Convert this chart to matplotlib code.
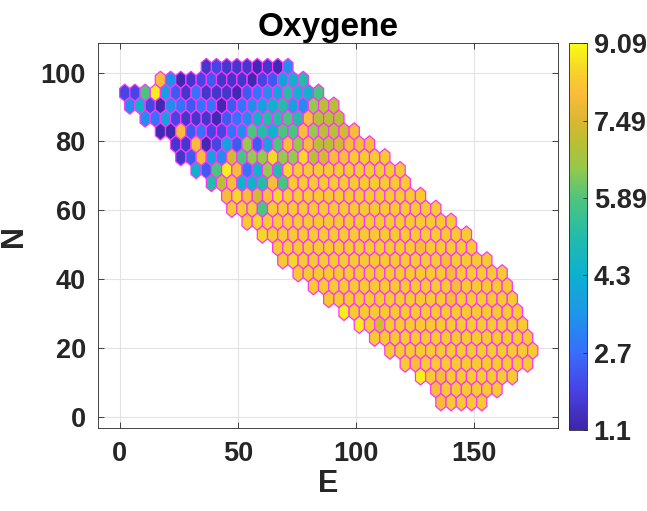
import numpy as np
import matplotlib
matplotlib.use("Agg")
import matplotlib.pyplot as plt
from matplotlib.collections import PolyCollection
from matplotlib.colors import LinearSegmentedColormap

plt.rcParams['font.family'] = ['Liberation Sans', 'DejaVu Sans']
plt.rcParams['font.weight'] = 'bold'

# colour codes -> oxygen value
level_codes = "PDVUBLSCTGgKkOoYW"
level_values = [1.25, 1.6, 1.95, 2.35, 2.8, 3.3, 3.8, 4.4, 5.1, 5.8, 6.5, 7.0, 7.4, 8.0, 8.3, 8.55, 8.9]

# first half-column index of each hex row (top row first)
row_first = [16, 7, 0, 1, 4, 7, 10, 11, 14, 17, 20, 21, 24, 27, 30, 31, 34,
             37, 40, 43, 46, 49, 52, 55, 58, 61, 62]

# one code per cell, left to right
row_cells = [
    "DVDDDPDPL",
    "OLPDVUDDDPVUSCT",
    "VVGWSUDBDDDPUBLSTCCG",
    "LCVPLBUBBPUBLSCTSLgKK",
    "LBSVDDDPUBLCTTGTOKKK",
    "PPOUBVVBLGTCGGOgKKkO",
    "DDOPVSUgUSGOgOKKkOOO",
    "DUOSLkGggYggYKkOOoooo",
    "CUGWOBCgTYooooooooooo",
    "TKOCCTOGoooooooooooo",
    "OYOkOYoooooooooooooo",
    "oooGooooooooooooooooo",
    "oYooooooooooooooooooo",
    "Yoooooooooooooooooooo",
    "ooooooooooooooOooooo",
    "oYooooooooooooooOoooo",
    "oooooooooooooooOooooo",
    "ooooooooooooooOooooo",
    "ooooooooooooOoooooo",
    "Wooooooooooooooooo",
    "Wokoooooooooooooo",
    "oooooooooooooooo",
    "ooooooooooooooo",
    "oOooooooooooo",
    "WoOooooooo",
    "Ooooooo",
    "Ooooo",
]

# grid geometry (E, N units)
E0, E_HALF = 2.1, 2.157
N0, N_STEP, HEX_R = 101.66, 3.75, 2.5

parula = LinearSegmentedColormap.from_list("parula_like", [
    (0.00, (62/255, 38/255, 168/255)),
    (0.10, (72/255, 66/255, 226/255)),
    (0.20, (55/255, 110/255, 252/255)),
    (0.30, (30/255, 150/255, 232/255)),
    (0.40, (12/255, 176/255, 208/255)),
    (0.50, (35/255, 187/255, 170/255)),
    (0.60, (80/255, 197/255, 125/255)),
    (0.68, (150/255, 200/255, 75/255)),
    (0.75, (190/255, 190/255, 50/255)),
    (0.80, (218/255, 182/255, 50/255)),
    (0.87, (251/255, 188/255, 58/255)),
    (0.93, (246/255, 212/255, 42/255)),
    (1.00, (249/255, 251/255, 20/255)),
])

code_value = dict(zip(level_codes, level_values))
ox = [0, E_HALF, E_HALF, 0, -E_HALF, -E_HALF]
oy = [HEX_R, HEX_R / 2, -HEX_R / 2, -HEX_R, -HEX_R / 2, HEX_R / 2]

verts, vals = [], []
for r, (h0, cells) in enumerate(zip(row_first, row_cells)):
    n = N0 - N_STEP * r
    for i, c in enumerate(cells):
        e = E0 + E_HALF * (h0 + 2 * i)
        verts.append(list(zip(e + np.array(ox), n + np.array(oy))))
        vals.append(code_value[c])

fig = plt.figure(figsize=(6.47, 5.11), dpi=100)
ax = fig.add_axes([0.152, 0.162, 0.711, 0.753])

pc = PolyCollection(verts, array=np.array(vals), cmap=parula,
                    edgecolors='#ff33ff', linewidths=0.9)
pc.set_clim(1.1, 9.09)
ax.add_collection(pc)

ax.set_xlim(-9.05, 185.5)
ax.set_ylim(-3.4, 108.5)
ax.set_xticks([0, 50, 100, 150])
ax.set_yticks(np.arange(0, 101, 20))
ax.grid(True, color='#e2e2e2', linewidth=0.8)
ax.set_axisbelow(True)
ax.tick_params(direction='in', top=True, right=True, labelsize=19.5,
               colors='#262626', length=4, width=0.6, pad=9)
for s in ax.spines.values():
    s.set_color('#262626')
    s.set_linewidth(0.6)
ax.set_xlabel('E', fontsize=22, fontweight='bold', color='#262626', labelpad=2)
ax.set_ylabel('N', fontsize=22, fontweight='bold', color='#262626', labelpad=8)
ax.set_title('Oxygene', fontsize=24, fontweight='bold', color='black', pad=5)

cax = fig.add_axes([0.880, 0.1585, 0.0269, 0.757])
cb = fig.colorbar(pc, cax=cax, ticks=[1.1, 2.7, 4.3, 5.89, 7.49, 9.09])
cb.ax.set_yticklabels(['1.1', '2.7', '4.3', '5.89', '7.49', '9.09'])
cb.ax.tick_params(direction='in', labelsize=19.5, colors='#262626',
                  length=3, width=0.6, pad=5)
cb.outline.set_edgecolor('#262626')
cb.outline.set_linewidth(0.6)

fig.savefig('out.png', dpi=100)
